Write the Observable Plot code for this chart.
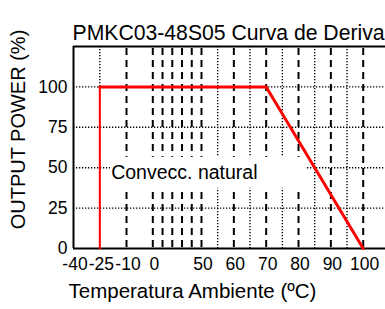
<!DOCTYPE html>
<html>
<head>
<meta charset="utf-8">
<script src="https://cdn.jsdelivr.net/npm/d3@7"></script>
<script src="https://cdn.jsdelivr.net/npm/@observablehq/plot@0.6"></script>
<style>
  body { margin: 0; background: #fff; }
  svg text { font-family: "Liberation Sans", Arial, sans-serif; }
</style>
</head>
<body>
<div id="chart"></div>
<script>
// ---- data ----
const titleText = "PMKC03-48S05 Curva de Deriva";
const xTitle = "Temperatura Ambiente (ºC)";
const yTitle = "OUTPUT POWER (%)";
const curveLabel = "Convecc. natural";

const xTickLabels = [-40, -25, -10, 0, 50, 60, 70, 80, 90, 100];
const yTickLabels = [0, 25, 50, 75, 100];
const dashedX = [-10, 0, 10, 20, 30, 40, 50, 60, 70, 80, 90, 100];
const dottedX = [-25, 55, 65, 75, 85, 95];
const dottedY = [25, 50, 75, 100];

// derating curve: temperature (ºC) vs output power (%)
const curveTemp = [-25, -25, 70, 100];
const curvePower = [0, 100, 100, 0];

// label annotation (data units)
const labelPos = {x: -18.6, y: 47};
const labelBox = {x1: -19, x2: 82.3, y1: 37.2, y2: 56.4};

// ---- build ----
const curve = curveTemp.map((t, i) => ({t, p: curvePower[i]}));
const vertical = curve.slice(0, 2);
const rest = curve.slice(1);

const W = 385, H = 309;
const chart = Plot.plot({
  width: W,
  height: H,
  marginLeft: 73,
  marginRight: 0,
  marginTop: 46,
  marginBottom: 61,
  style: {background: "#fff", overflow: "hidden"},
  x: {
    type: "linear",
    domain: [-40, -25, -10, 0, 50, 100, 110],
    range: [73, 99.3, 126, 152.3, 201, 362.7, 395],
    axis: null
  },
  y: {domain: [0, 125], axis: null},
  marks: [
    // grid
    Plot.ruleX(dottedX, {x: d => d, stroke: "#000", strokeWidth: 1.4, strokeDasharray: "1.3,1.7"}),
    Plot.ruleY(dottedY, {y: d => d, stroke: "#000", strokeWidth: 1.4, strokeDasharray: "1.3,1.7"}),
    Plot.ruleX(dashedX, {x: d => d, stroke: "#000", strokeWidth: 2, strokeDasharray: "7,5", strokeDashoffset: 10}),
    // white label box
    Plot.rect([labelBox], {x1: "x1", x2: "x2", y1: "y1", y2: "y2", fill: "#fff"}),
    // frame (left, top, bottom)
    Plot.ruleX([-40], {x: d => d, stroke: "#000", strokeWidth: 2}),
    Plot.ruleY([125], {y: d => d, stroke: "#000", strokeWidth: 2}),
    Plot.ruleY([0], {y: d => d, stroke: "#000", strokeWidth: 2}),
    // curve
    Plot.line(vertical, {x: "t", y: "p", stroke: "#ff0000", strokeWidth: 2}),
    Plot.line(rest, {x: "t", y: "p", stroke: "#ff0000", strokeWidth: 3, strokeLinejoin: "miter"}),
    // annotation
    Plot.text([curveLabel], {x: () => labelPos.x, y: () => labelPos.y, text: d => d, textAnchor: "start", fontSize: 19.5, fill: "#000"}),
    // tick labels
    Plot.text(xTickLabels, {x: d => d, text: d => String(d), frameAnchor: "bottom", dy: 21, dx: 1.5, fontSize: 17.5, fill: "#000"}),
    Plot.text(yTickLabels, {y: d => d, text: d => String(d), frameAnchor: "left", textAnchor: "end", dx: -6, fontSize: 17.5, fill: "#000"}),
    // titles
    Plot.text([titleText], {text: d => d, frameAnchor: "top-left", textAnchor: "start", dx: -1, dy: -22, fontSize: 21.2, fill: "#000"}),
    Plot.text([yTitle], {text: d => d, frameAnchor: "left", textAnchor: "middle", rotate: -90, dx: -55.3, dy: -18, fontSize: 20, fill: "#000"}),
    Plot.text([xTitle], {text: d => d, frameAnchor: "bottom-left", textAnchor: "start", dx: -5, dy: 49.5, fontSize: 20.5, fill: "#000"})
  ]
});
document.getElementById("chart").appendChild(chart);
</script>
</body>
</html>
